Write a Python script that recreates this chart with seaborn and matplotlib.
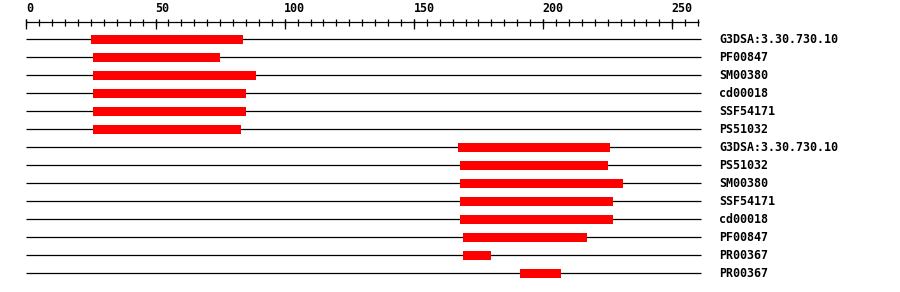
import matplotlib
matplotlib.use("Agg")
import matplotlib.pyplot as plt
import seaborn as sns
import numpy as np
import pandas as pd

# ---- data ----
labels = ["G3DSA:3.30.730.10", "PF00847", "SM00380", "cd00018", "SSF54171", "PS51032",
          "G3DSA:3.30.730.10", "PS51032", "SM00380", "SSF54171", "cd00018", "PF00847",
          "PR00367", "PR00367"]
starts = [25, 26, 26, 26, 26, 26, 167, 168, 168, 168, 168, 169, 169, 191]
ends = [84, 75, 89, 85, 85, 83, 226, 225, 231, 227, 227, 217, 180, 207]
seq_length = 261
tick_major = [0, 50, 100, 150, 200, 250]
tick_step = 5

# ---- layout (pixels in figure coordinates) ----
W, H = 900, 292
px_per_unit = 2.584
x0_px = 26.3
row0_y = 39.3
row_gap = 18.0
ruler_y = 22.3

sns.set_theme(style="white")
plt.rcParams["font.family"] = ["DejaVu Sans Mono", "DejaVu Sans"]

fig = plt.figure(figsize=(W / 100, H / 100), dpi=100)
ax = fig.add_axes([0, 0, 1, 1])

rows_y = row0_y + row_gap * np.arange(len(labels))
df = pd.DataFrame({"label": labels, "start": starts, "end": ends, "row": rows_y})
df["length"] = df["end"] - df["start"]

# backbone lines
ax.hlines(df["row"], 0, seq_length, color="black", linewidth=0.9, zorder=1)

# domain bars
sns.barplot(data=df, x="length", y="row", orient="y", native_scale=True,
            left=df["start"].to_numpy(), width=0.5, color="#ff0000",
            saturation=1, errorbar=None, linewidth=0, ax=ax, zorder=2)

# labels at right
label_x = (719.5 - x0_px) / px_per_unit
for y, lab in zip(df["row"], df["label"]):
    ax.text(label_x, y, lab, ha="left", va="center", fontsize=8.4,
            fontweight="bold", color="black")

# ruler
ruler_end = seq_length - 0.5
ax.hlines(ruler_y, 0, ruler_end, color="black", linewidth=0.9)
minor = np.arange(0, ruler_end + 0.01, tick_step)
ax.vlines(minor, 18.7, 25.5, color="black", linewidth=0.9)
ax.vlines(tick_major, 18.7, 28.8, color="black", linewidth=0.9)
for t in tick_major:
    ax.text(t - 0.2, 12.2, str(t), ha="left", va="baseline", fontsize=8.4,
            fontweight="bold", color="black")

ax.set_xlim(-x0_px / px_per_unit, (W - x0_px) / px_per_unit)
ax.set_ylim(H, 0)
ax.set_axis_off()

fig.savefig("out.png", dpi=100)
